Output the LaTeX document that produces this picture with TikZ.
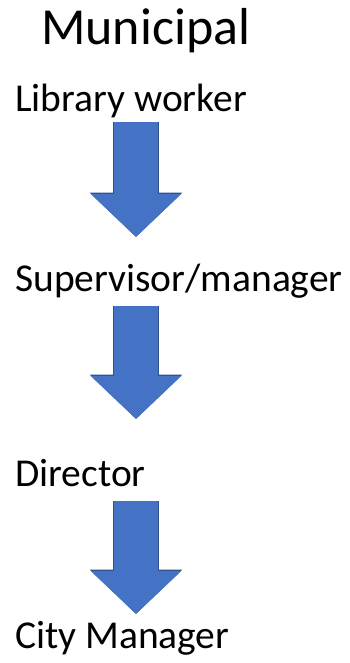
\documentclass[tikz,border=0pt]{standalone}
\usepackage{fontspec}
\setmainfont{Carlito}
\usepackage{xcolor}
\usetikzlibrary{arrows.meta}

\definecolor{arrowblue}{RGB}{68,114,196}
\definecolor{arrowedge}{RGB}{47,82,143}

\tikzset{
  title/.style={anchor=base west,inner sep=0pt,font=\fontsize{52}{58}\selectfont},
  rank/.style={anchor=base west,inner sep=0pt,font=\fontsize{39.5}{46}\selectfont},
  blockarrow/.style={arrowblue,line width=44pt,-{Triangle[length=43pt,width=88pt]},
    preaction={draw=arrowedge,line width=45.5pt,-{Triangle[length=44.5pt,width=90pt]}}}
}

\begin{document}
\begin{tikzpicture}[x=1pt,y=1pt]
\useasboundingbox (0,0) rectangle (350,-663);
\node[title] (muni) at (41,-45) {Municipal};
\node[rank] (lib) at (15,-112) {Library worker};
\node[rank] (sup) at (15,-291) {Supervisor/manager};
\node[rank] (dir) at (15,-486) {Director};
\node[rank] (city) at (15,-648) {City Manager};
\coordinate (a1s) at (136,-122);
\coordinate (a1e) at (136,-237);
\coordinate (a2s) at (136,-306);
\coordinate (a2e) at (136,-419);
\coordinate (a3s) at (136,-501);
\coordinate (a3e) at (136,-614);
\draw[blockarrow] (a1s) -- (a1e);
\draw[blockarrow] (a2s) -- (a2e);
\draw[blockarrow] (a3s) -- (a3e);
\end{tikzpicture}
\end{document}
